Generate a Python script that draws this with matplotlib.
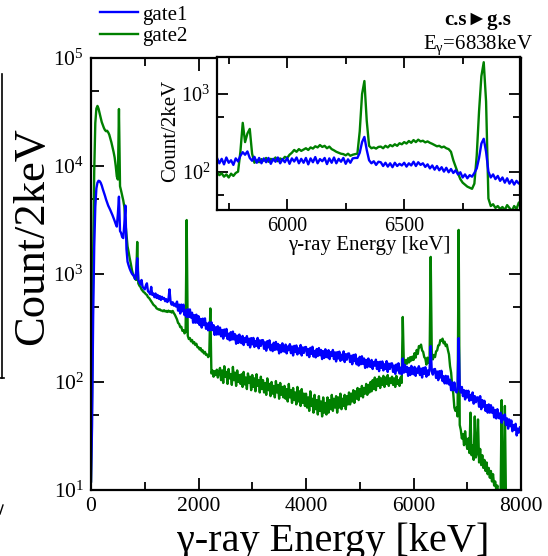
import numpy as np
import matplotlib
matplotlib.use('Agg')
import matplotlib.pyplot as plt
from matplotlib.ticker import LogLocator, MultipleLocator, NullFormatter
from matplotlib.lines import Line2D

plt.rcParams['font.family'] = ['Liberation Serif', 'DejaVu Sans']
plt.rcParams['mathtext.fontset'] = 'custom'
plt.rcParams['mathtext.rm'] = 'Liberation Serif'
plt.rcParams['mathtext.it'] = 'Liberation Serif:italic'

# bin energies [keV]
energy_main = np.arange(0, 8000, 20)
energy_inset = np.arange(5700, 7001, 10)

# counts (20 keV steps, one row = 400 keV)
gate1_main = [
	12, 40, 400, 1800, 4200, 6200, 7000, 7300, 7250, 7000, 6600, 6100, 5700, 5300, 4900, 4600, 4300, 4100, 3900, 3700,
	3500, 3300, 3100, 2900, 2750, 3600, 5200, 2500, 2400, 2200, 2150, 2900, 4300, 1700, 1300, 1200, 1120, 1060, 1010, 980,
	960, 900, 1050, 1400, 880, 840, 800, 880, 760, 740, 720, 780, 820, 690, 680, 650, 760, 640, 660, 610,
	660, 600, 640, 590, 625, 575, 615, 590, 600, 560, 585, 550, 575, 720, 555, 520, 548, 510, 530, 500,
	555, 458, 520, 431, 521, 452, 520, 416, 464, 399, 472, 400, 470, 395, 438, 354, 416, 354, 420, 353,
	407, 337, 384, 319, 386, 336, 388, 311, 348, 301, 356, 303, 357, 302, 336, 273, 321, 275, 328, 276,
	319, 265, 303, 252, 306, 268, 310, 250, 280, 243, 289, 247, 293, 248, 277, 226, 268, 230, 275, 233,
	229, 267, 220, 255, 234, 266, 220, 252, 209, 255, 223, 256, 211, 240, 216, 256, 205, 243, 216, 244,
	244, 203, 233, 195, 239, 209, 243, 197, 221, 193, 231, 198, 235, 200, 225, 184, 219, 189, 228, 194,
	191, 222, 184, 213, 197, 224, 185, 213, 176, 216, 189, 218, 180, 205, 185, 220, 176, 209, 186, 210,
	211, 177, 202, 170, 207, 182, 212, 172, 194, 169, 202, 174, 206, 177, 198, 163, 193, 167, 201, 172,
	169, 197, 163, 189, 174, 198, 163, 188, 155, 189, 165, 191, 157, 179, 161, 192, 153, 181, 161, 183,
	184, 153, 175, 146, 178, 156, 180, 146, 164, 142, 171, 146, 173, 147, 165, 135, 160, 137, 165, 140,
	138, 160, 132, 153, 142, 161, 132, 153, 126, 154, 135, 155, 128, 146, 132, 156, 124, 148, 132, 148,
	149, 124, 142, 119, 145, 128, 149, 120, 136, 118, 165, 122, 144, 124, 138, 114, 135, 116, 141, 120,
	118, 138, 114, 133, 122, 140, 116, 133, 110, 135, 119, 137, 112, 128, 116, 134, 215, 125, 117, 131,
	132, 109, 125, 104, 126, 110, 127, 102, 113, 97, 114, 97, 113, 95, 105, 84, 99, 84, 99, 83,
	80, 85, 255, 90, 80, 90, 74, 84, 69, 83, 72, 83, 67, 76, 68, 80, 63, 74, 65, 72,
	72, 59, 74, 56, 68, 59, 67, 54, 61, 52, 62, 52, 61, 52, 58, 47, 55, 46, 56, 47,
	46, 52, 42, 49, 45, 50, 40, 46, 37, 45, 39, 44, 35, 40, 36, 41, 32, 37, 34, 38,
]
gate2_main = [
	12, 80, 1500, 9000, 25000, 34000, 36000, 34000, 31000, 28000, 25500, 24000, 22500, 21500, 21000, 21200, 20500, 19500, 18000, 16500,
	15000, 13500, 12000, 10000, 8000, 7500, 33700, 6500, 5900, 5300, 4800, 4200, 3000, 2300, 1800, 1600, 1400, 1250, 1100, 1000,
	950, 900, 880, 1980, 820, 780, 760, 720, 700, 680, 670, 650, 640, 610, 600, 580, 560, 540, 520, 510,
	500, 480, 475, 468, 470, 460, 458, 452, 462, 450, 455, 445, 458, 448, 452, 440, 455, 435, 420, 400,
	380, 352, 345, 322, 325, 298, 302, 282, 290, 3160, 268, 250, 255, 238, 245, 228, 234, 220, 226, 210,
	210, 200, 206, 192, 196, 184, 190, 178, 180, 170, 176, 480, 120, 128, 112, 126, 116, 130, 110, 124,
	135, 104, 128, 98, 140, 112, 124, 96, 132, 108, 118, 94, 138, 104, 122, 92, 128, 100, 116, 96,
	118, 90, 124, 95, 110, 86, 120, 98, 112, 84, 116, 90, 108, 82, 118, 92, 104, 80, 112, 86,
	104, 80, 98, 76, 108, 84, 96, 74, 100, 78, 92, 72, 102, 80, 94, 70, 98, 76, 90, 72,
	92, 70, 86, 66, 96, 72, 84, 64, 88, 68, 80, 62, 90, 66, 82, 60, 86, 64, 78, 60,
	78, 58, 72, 54, 82, 60, 70, 52, 76, 56, 68, 50, 74, 54, 66, 48, 72, 52, 64, 50,
	72, 52, 68, 56, 76, 54, 70, 58, 74, 52, 72, 58, 78, 56, 70, 60, 76, 56, 74, 62,
	80, 62, 78, 66, 84, 64, 82, 70, 88, 68, 86, 74, 92, 72, 88, 78, 96, 76, 94, 80,
	100, 82, 104, 86, 110, 84, 106, 92, 112, 88, 108, 94, 114, 90, 110, 96, 116, 92, 108, 98,
	112, 94, 108, 90, 114, 96, 104, 92, 110, 98, 400, 150, 142, 160, 148, 166, 152, 170, 158, 172,
	160, 185, 168, 198, 182, 215, 210, 222, 196, 190, 170, 165, 145, 168, 150, 172, 1440, 185, 162, 178,
	170, 192, 196, 218, 220, 245, 240, 252, 228, 236, 215, 222, 198, 180, 140, 122, 92, 78, 58, 54,
	58, 48, 2560, 40, 36, 30, 33, 26, 35, 28, 24, 30, 22, 52, 21, 26, 19, 48, 20, 22,
	45, 18, 24, 17, 21, 16, 19, 15, 18, 14, 16, 13, 15, 12, 14, 11, 12, 10, 11, 9,
	10, 8, 68, 9, 7, 60, 8, 6, 7, 5, 6, 5, 5, 4, 4, 4, 3, 3, 3, 3,
]

# counts in the zoomed window (10 keV steps, one row = 100 keV)
gate1_inset = [
	150, 128, 146, 124, 152, 130, 140, 122, 148, 135,
	160, 178, 165, 182, 150, 138, 155, 130, 150, 128,
	148, 132, 150, 126, 146, 134, 152, 128, 145, 132,
	150, 126, 148, 135, 152, 128, 146, 130, 150, 124,
	148, 132, 154, 128, 145, 136, 150, 125, 148, 130,
	152, 128, 146, 134, 150, 126, 144, 130, 148, 150,
	150, 175, 240, 280, 190, 140, 128, 136, 122, 134,
	132, 118, 130, 116, 128, 114, 130, 118, 126, 120,
	130, 116, 128, 120, 134, 118, 132, 122, 128, 115,
	124, 110, 120, 106, 118, 104, 114, 100, 112, 98,
	108, 96, 104, 92, 98, 84, 92, 82, 90, 86,
	96, 110, 150, 230, 265, 180, 100, 84, 92, 80,
	88, 76, 84, 72, 82, 70, 78, 68, 76, 70,
	74,
]
gate2_inset = [
	98, 90, 95, 86, 92, 84, 94, 88, 96, 100,
	180, 425, 240, 310, 355, 170, 130, 140, 132, 145,
	138, 150, 134, 146, 140, 152, 136, 148, 142, 155,
	150, 165, 175, 190, 180, 195, 185, 192, 200, 190,
	205, 198, 212, 205, 220, 208, 215, 200, 210, 195,
	188, 180, 175, 170, 168, 162, 170, 160, 165, 168,
	170, 330, 1000, 1470, 450, 215, 200, 205, 198, 208,
	210, 200, 215, 205, 220, 212, 225, 215, 232, 225,
	240, 230, 248, 235, 255, 240, 258, 245, 250, 238,
	245, 235, 228, 220, 212, 215, 205, 210, 200, 195,
	180, 140, 115, 95, 80, 72, 68, 64, 62, 60,
	70, 160, 600, 1700, 2570, 800, 45, 36, 38, 34,
	36, 33, 35, 32, 37, 34, 31, 36, 33, 40,
	34,
]

BLUE = '#0000ff'
GREEN = '#008000'
W, H = 548, 556


def style_axes(ax, xmajor, xminor, labelsize, major_len, minor_len):
	ax.set_yscale('log')
	ax.xaxis.set_major_locator(MultipleLocator(xmajor))
	ax.xaxis.set_minor_locator(MultipleLocator(xminor))
	ax.yaxis.set_major_locator(LogLocator(base=10, numticks=10))
	ax.yaxis.set_minor_locator(LogLocator(base=10, subs=(5,), numticks=10))
	ax.yaxis.set_minor_formatter(NullFormatter())
	ax.tick_params(which='both', direction='in', top=True, right=True, width=1.3, labelsize=labelsize)
	ax.tick_params(which='major', length=major_len, pad=5)
	ax.tick_params(which='minor', length=minor_len)
	for s in ax.spines.values():
		s.set_linewidth(1.6)


def main():
	fig = plt.figure(figsize=(W / 100, H / 100), dpi=100)

	# main spectrum
	ax = fig.add_axes([91 / W, 1 - 490 / H, 430 / W, 432 / H])
	l2, = ax.plot(energy_main, gate2_main, color=GREEN, lw=1.7)
	l1, = ax.plot(energy_main, gate1_main, color=BLUE, lw=1.7)
	ax.set_xlim(0, 8000)
	ax.set_ylim(10, 1e5)
	style_axes(ax, 2000, 1000, 15.5, 9, 6)

	fig.text(32 / W, 1 - 236 / H, 'Count/2keV', rotation=90, ha='center', va='center', fontsize=32)
	fig.text(333 / W, 1 - 551 / H, '\u03b3-ray Energy [keV]', ha='center', va='baseline', fontsize=29)

	ax.legend([l1, l2], ['gate1', 'gate2'], loc='upper left', bbox_to_anchor=(100 / W, 1 - 5 / H),
		bbox_transform=fig.transFigure, frameon=False, fontsize=15, handlelength=1.8,
		handletextpad=0.2, labelspacing=0.1, borderpad=0, borderaxespad=0)

	fig.text(478 / W, 1 - 20 / H, 'c.s\u25bag.s', ha='center', va='center', fontsize=15, weight='bold')
	fig.text(478 / W, 1 - 45 / H, r'E$_{\mathrm{\gamma}}$=6838keV', ha='center', va='center', fontsize=15)

	# zoomed window
	axi = fig.add_axes([217 / W, 1 - 210 / H, 303 / W, 153 / H])
	axi.plot(energy_inset, gate2_inset, color=GREEN, lw=1.7)
	axi.plot(energy_inset, gate1_inset, color=BLUE, lw=1.7)
	axi.set_xlim(5700, 6995)
	axi.set_ylim(32, 3000)
	style_axes(axi, 500, 250, 14.5, 8, 5)
	axi.tick_params(which='major', pad=5)
	fig.text(171 / W, 1 - 131 / H, 'Count/2keV', rotation=90, ha='center', va='center', fontsize=15)
	fig.text(369 / W, 1 - 250 / H, '\u03b3-ray Energy [keV]', ha='center', va='baseline', fontsize=15)

	# edge of the neighbouring panel
	fig.add_artist(Line2D([1.5 / W, 1.5 / W], [1 - 74 / H, 1 - 378 / H], color='k', lw=1.2))
	fig.add_artist(Line2D([0, 4 / W], [1 - 378 / H, 1 - 378 / H], color='k', lw=1.2))
	fig.add_artist(Line2D([0, 3 / W], [1 - 514 / H, 1 - 505 / H], color='k', lw=1.0))

	fig.savefig('out.png', dpi=100)


if __name__ == '__main__':
	main()
